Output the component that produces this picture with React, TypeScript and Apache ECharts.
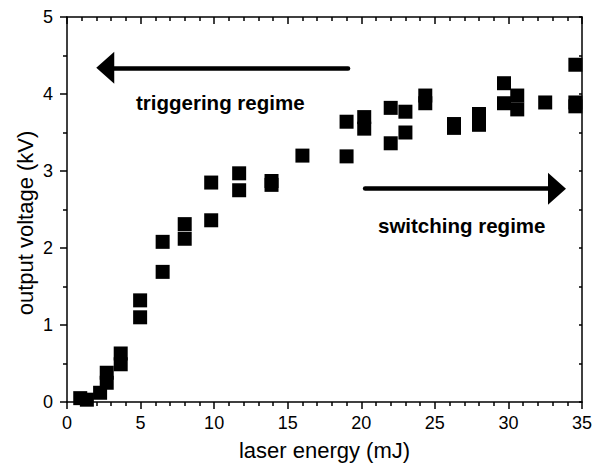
import React, { useEffect, useRef } from "react";
import * as echarts from "echarts";

// Laser energy (mJ) and the measured output voltage (kV) for each shot
const energy = [
  0.9, 1.35, 2.25, 2.7, 2.7, 3.65, 3.65, 4.97, 4.97, 6.5, 6.5, 8.0, 8.0, 9.8, 9.8,
  11.7, 11.7, 13.9, 13.9, 16.0, 19.0, 19.0, 20.2, 20.2, 22.0, 22.0, 23.0, 23.0,
  24.35, 24.35, 26.3, 26.3, 28.0, 28.0, 29.7, 29.7, 30.6, 30.6, 32.5, 34.55, 34.55,
  34.55,
];
const voltage = [
  0.05, 0.03, 0.12, 0.25, 0.38, 0.49, 0.63, 1.1, 1.32, 1.69, 2.08, 2.12, 2.31, 2.36,
  2.85, 2.75, 2.97, 2.82, 2.87, 3.2, 3.19, 3.64, 3.55, 3.7, 3.36, 3.82, 3.5, 3.77,
  3.88, 3.98, 3.56, 3.61, 3.6, 3.74, 3.88, 4.14, 3.8, 3.98, 3.89, 3.84, 3.89, 4.38,
];

// Regime arrows: [start energy, end energy, voltage level]
const triggeringArrow = [19.1, 2.6, 4.34];
const switchingArrow = [20.26, 33.3, 2.77];

const xTitle = "laser energy (mJ)";
const yTitle = "output voltage (kV)";
const triggeringLabel = "triggering regime";
const switchingLabel = "switching regime";

const FONT = "'Liberation Sans', Arial, Helvetica, sans-serif";
const BLACK = "#000";

export default function App() {
  const ref = useRef<HTMLDivElement>(null);

  useEffect(() => {
    if (!ref.current) return;
    const chart = echarts.init(ref.current, undefined, { renderer: "svg" });

    const points = energy.map((e, i) => [e, voltage[i]]);
    const line = { color: BLACK, width: 1.5 };

    chart.setOption({
      animation: false,
      backgroundColor: "#fff",
      grid: { left: 67, top: 17, width: 517, height: 385, containLabel: false },
      xAxis: [
        {
          type: "value",
          position: "bottom",
          min: 0,
          max: 35,
          interval: 5,
          axisLine: { show: true, onZero: false, lineStyle: line },
          axisTick: { show: true, inside: false, length: 7, lineStyle: line },
          minorTick: { show: true, splitNumber: 5, length: 4, lineStyle: line },
          splitLine: { show: false },
          axisLabel: { color: BLACK, fontSize: 18, fontFamily: FONT, margin: 12 },
          name: xTitle,
          nameLocation: "middle",
          nameGap: 37,
          nameTextStyle: { color: BLACK, fontSize: 22, fontFamily: FONT },
        },
        {
          type: "value",
          position: "top",
          min: 0,
          max: 35,
          interval: 5,
          axisLine: { show: true, onZero: false, lineStyle: line },
          axisTick: { show: true, inside: true, length: 7, lineStyle: line },
          minorTick: { show: true, splitNumber: 5, length: 4, lineStyle: line },
          splitLine: { show: false },
          axisLabel: { show: false },
        },
      ],
      yAxis: [
        {
          type: "value",
          position: "left",
          min: 0,
          max: 5,
          interval: 1,
          axisLine: { show: true, onZero: false, lineStyle: line },
          axisTick: { show: true, inside: false, length: 7, lineStyle: line },
          minorTick: { show: true, splitNumber: 2, length: 4, lineStyle: line },
          splitLine: { show: false },
          axisLabel: { color: BLACK, fontSize: 18, fontFamily: FONT, margin: 14 },
        },
        {
          type: "value",
          position: "right",
          min: 0,
          max: 5,
          interval: 0.5,
          axisLine: { show: true, onZero: false, lineStyle: line },
          axisTick: { show: true, inside: true, length: 3, lineStyle: line },
          splitLine: { show: false },
          axisLabel: { show: false },
        },
      ],
      series: [
        {
          type: "scatter",
          xAxisIndex: 0,
          yAxisIndex: 0,
          symbol: "rect",
          symbolSize: 14,
          itemStyle: { color: BLACK, opacity: 1 },
          data: points,
          markLine: {
            silent: true,
            symbol: ["none", "triangle"],
            symbolSize: [32, 18],
            label: { show: false },
            lineStyle: { color: BLACK, width: 4.5, type: "solid", cap: "round", opacity: 1 },
            data: [
              [
                { coord: [triggeringArrow[0], triggeringArrow[2]] },
                { coord: [triggeringArrow[1], triggeringArrow[2]] },
              ],
              [
                { coord: [switchingArrow[0], switchingArrow[2]] },
                { coord: [switchingArrow[1], switchingArrow[2]] },
              ],
            ],
          },
        },
      ],
      graphic: [
        {
          type: "text",
          x: 25,
          y: 223,
          rotation: Math.PI / 2,
          style: {
            text: yTitle,
            fill: BLACK,
            font: `22px ${FONT}`,
            textAlign: "center",
            textVerticalAlign: "middle",
          },
        },
        {
          type: "text",
          x: 136,
          y: 102,
          style: {
            text: triggeringLabel,
            fill: BLACK,
            font: `bold 20.5px ${FONT}`,
            textAlign: "left",
            textVerticalAlign: "middle",
          },
        },
        {
          type: "text",
          x: 378,
          y: 225,
          style: {
            text: switchingLabel,
            fill: BLACK,
            font: `bold 20.5px ${FONT}`,
            textAlign: "left",
            textVerticalAlign: "middle",
          },
        },
      ],
    });

    return () => chart.dispose();
  }, []);

  return (
    <div
      ref={ref}
      style={{ position: "absolute", left: 0, top: 0, width: 595, height: 467 }}
    />
  );
}
